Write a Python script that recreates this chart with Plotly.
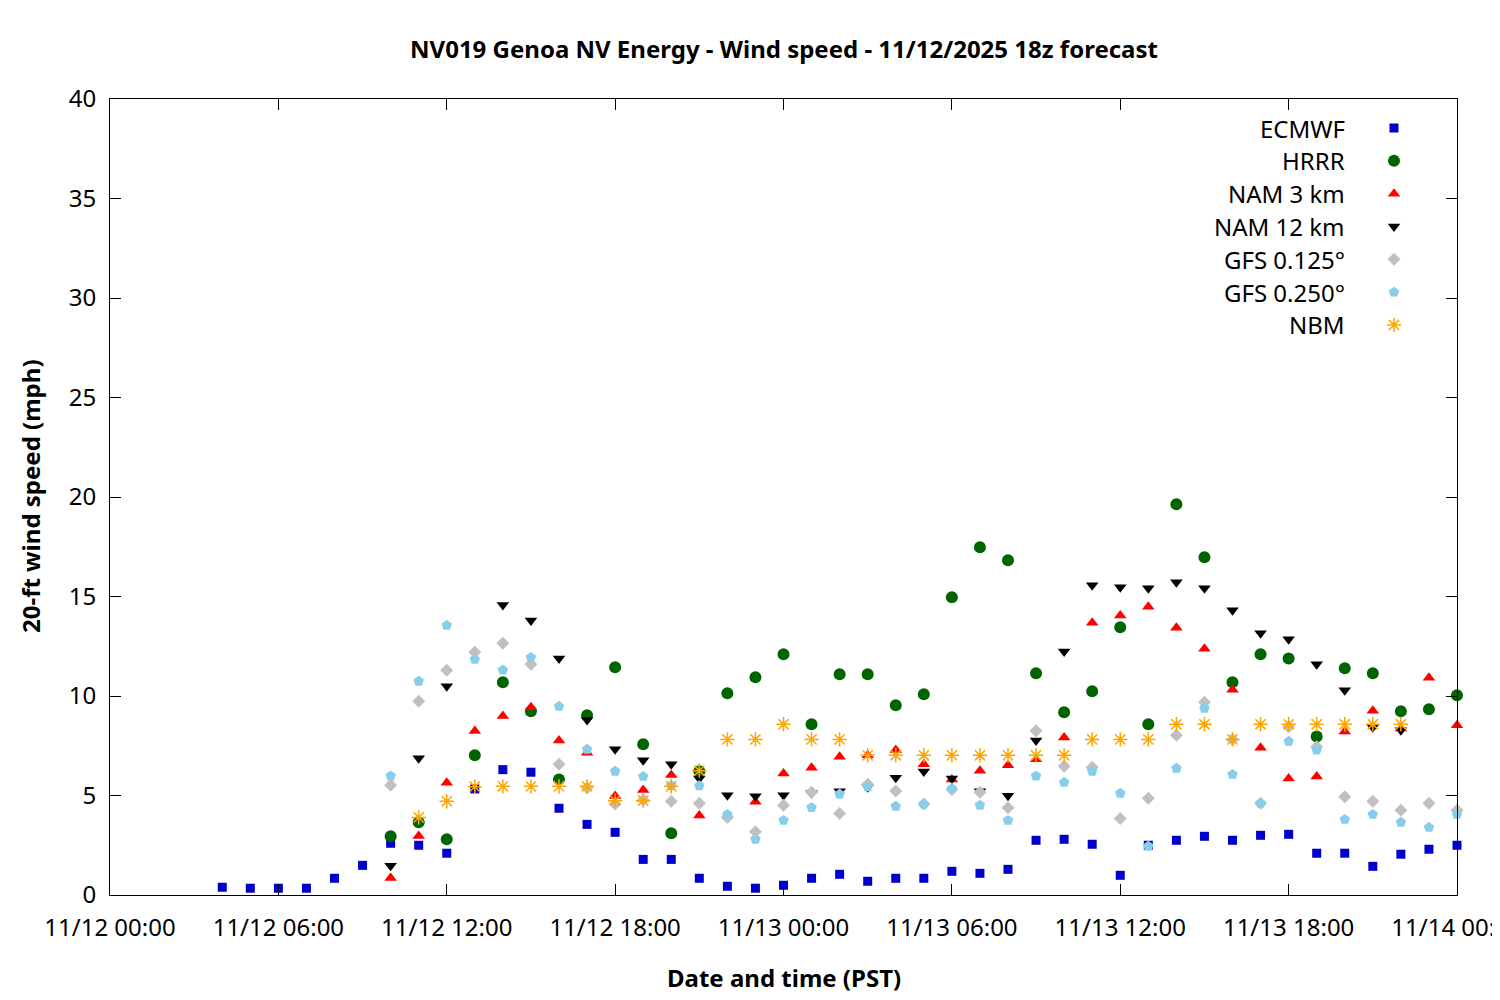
import pandas as pd
import plotly.graph_objects as go

# ---------------- data (hourly, hours after 11/12/2025 00:00 PST) ----------------
base_time = "2025-11-12 00:00"

ecmwf_start = 4
ecmwf = [0.39, 0.34, 0.34, 0.34, 0.84, 1.49, 2.6, 2.5, 2.1, 5.33, 6.3, 6.17, 4.36, 3.55,
         3.15, 1.79, 1.79, 0.84, 0.44, 0.34, 0.49, 0.84, 1.04, 0.69, 0.84, 0.84, 1.19,
         1.09, 1.29, 2.75, 2.8, 2.55, 0.99, 2.5, 2.75, 2.95, 2.75, 3.0, 3.05, 2.1, 2.1,
         1.44, 2.05, 2.3, 2.5]

hrrr_start = 10
hrrr = [2.95, 3.65, 2.8, 7.02, 10.69, 9.23, 5.81, 9.03, 11.44, 7.57, 3.1, 6.22, 10.14,
        10.94, 12.1, 8.58, 11.09, 11.09, 9.53, 10.09, 14.96, 17.47, 16.82, 11.14, 9.18,
        10.24, 13.45, 8.58, 19.63, 16.97, 10.69, 12.1, 11.89, 7.97, 11.39, 11.14, 9.23,
        9.33, 10.04]

nam3_start = 10
nam3 = [0.85, 2.96, 5.64, 8.24, 8.99, 9.43, 7.77, 7.15, 4.97, 5.28, 6.03, 4.0, 4.02,
        4.69, 6.11, 6.4, 6.95, 7.02, 7.29, 6.57, 5.81, 6.25, 6.52, 6.82, 7.91, 13.68,
        14.04, 14.49, 13.43, 12.38, 10.32, 7.4, 5.85, 5.95, 8.21, 9.26, 8.37, 10.92, 8.53]

nam12_start = 10
nam12 = [1.47, 6.87, 10.49, None, 14.57, 13.8, 11.89, 8.79, 7.32, 6.77, 6.57, 5.85,
         5.01, 4.96, 5.01, 5.11, 5.21, 5.41, 5.89, 6.21, 5.85, 5.21, 4.99, 7.77, 12.24,
         15.56, 15.46, 15.41, 15.71, 15.41, 14.31, 13.15, 12.85, 11.59, 10.29, 8.43, 8.28]

gfs125_start = 10
gfs125 = [5.51, 9.73, 11.29, 12.2, 12.65, 11.59, 6.57, 5.38, 4.57, 4.77, 4.71, 4.61,
          3.9, 3.18, 4.51, 5.16, 4.1, 5.56, 5.23, 4.57, 5.3, 5.16, 4.39, 8.26, 6.47,
          6.42, 3.85, 4.86, 8.03, 9.68, 7.82, 4.61, 8.46, 7.45, 4.94, 4.71, 4.26, 4.61,
          4.26]

gfs250_start = 10
gfs250 = [5.98, 10.74, 13.55, 11.84, 11.31, 11.94, 9.48, 7.32, 6.22, 5.96, 5.5, 5.49,
          4.05, 2.8, 3.75, 4.4, 5.07, 5.44, 4.46, 4.57, 5.36, 4.51, 3.75, 5.98, 5.66,
          6.22, 5.11, 2.45, 6.37, 9.38, 6.06, 4.61, 7.72, 7.29, 3.8, 4.05, 3.65, 3.4, 4.05]

nbm_start = 11
nbm = [3.9, 4.71, 5.44, 5.46, 5.46, 5.46, 5.46, 4.74, 4.74, 5.46, 6.25, 7.82, 7.82,
       8.58, 7.82, 7.82, 7.02, 7.02, 7.02, 7.02, 7.02, 7.02, 7.02, 7.02, 7.82, 7.82,
       7.82, 8.58, 8.58, 7.82, 8.58, 8.58, 8.58, 8.58, 8.58, 8.58]

series_names = ["ECMWF", "HRRR", "NAM 3 km", "NAM 12 km", "GFS 0.125°", "GFS 0.250°", "NBM"]
series_values = [ecmwf, hrrr, nam3, nam12, gfs125, gfs250, nbm]
series_starts = [ecmwf_start, hrrr_start, nam3_start, nam12_start, gfs125_start,
                 gfs250_start, nbm_start]

# ---------------- styles ----------------
styles = [
    dict(symbol="square", size=9, color="#0000cc"),
    dict(symbol="circle", size=12, color="#006400"),
    dict(symbol="triangle-up", size=11, color="#ff0000"),
    dict(symbol="triangle-down", size=11, color="#000000"),
    dict(symbol="diamond", size=10, color="#c0c0c0"),
    dict(symbol="pentagon", size=11, color="#87ceeb"),
    dict(symbol="asterisk-open", size=12, color="#ffa500"),
]

FONT = "Noto Sans"
t0 = pd.Timestamp(base_time)

# page offset (browser body margin) so that screen pixels match the reference
OFF = 8
W, H = 1500, 1000
L, T = 110 - OFF, 99 - OFF
R = W - (1457 - OFF)
B = H - (895 - OFF)
pw, ph = W - L - R, H - T - B


def px_x(p):
    return (p - OFF - L) / pw


def px_y(p):
    return (H - B - (p - OFF)) / ph


def make_marker(st):
    marker = dict(symbol=st["symbol"], size=st["size"], color=st["color"])
    if st["symbol"].startswith("asterisk"):
        marker["line"] = dict(color=st["color"], width=1.5)
    else:
        marker["line"] = dict(width=0)
    return marker


fig = go.Figure()
for name, vals, start, st in zip(series_names, series_values, series_starts, styles):
    times = [t0 + pd.Timedelta(hours=start + i) for i in range(len(vals))]
    fig.add_trace(go.Scatter(x=times, y=vals, mode="markers", name=name,
                             marker=make_marker(st), showlegend=False, cliponaxis=False))

# legend keys (gnuplot-style: text right-aligned, symbol to the right)
legend_rows = list(range(len(series_names)))
for name, row, st in zip(series_names, legend_rows, styles):
    fig.add_trace(go.Scatter(x=[0], y=[row], xaxis="x2", yaxis="y2", mode="markers",
                             marker=make_marker(st), showlegend=False, hoverinfo="skip"))
    fig.add_annotation(text=name, xref="paper", yref="y2", x=px_x(1347), y=row,
                       xanchor="right", yanchor="middle", showarrow=False,
                       font=dict(family=FONT, size=24, color="black"))

fig.update_layout(
    width=W, height=H,
    margin=dict(l=L, r=R, t=T, b=B, autoexpand=False),
    paper_bgcolor="white", plot_bgcolor="white",
    font=dict(family=FONT, size=24, color="black"),
    title=dict(text="<b>NV019 Genoa NV Energy - Wind speed - 11/12/2025 18z forecast</b>",
               x=px_x(784), xref="paper", xanchor="center",
               y=1 - (50 - OFF) / H, yref="container", yanchor="middle",
               font=dict(family=FONT, size=24, color="black")),
    xaxis=dict(type="date",
               range=[t0, t0 + pd.Timedelta(hours=48)],
               tickformat="%m/%d %H:%M", dtick=6 * 3600 * 1000, tick0=t0,
               ticks="inside", ticklen=11, tickcolor="black", tickwidth=1,
               showline=True, linecolor="black", linewidth=1, mirror="ticks",
               showgrid=False, zeroline=False, ticklabelstandoff=11,
               ticklabeloverflow="allow", automargin=False,
               tickfont=dict(family=FONT, size=24, color="black")),
    yaxis=dict(range=[0, 40], dtick=5, tick0=0,
               ticks="inside", ticklen=11, tickcolor="black", tickwidth=1,
               showline=True, linecolor="black", linewidth=1, mirror="ticks",
               showgrid=False, zeroline=False, ticklabelstandoff=8, automargin=False,
               tickfont=dict(family=FONT, size=24, color="black")),
    xaxis2=dict(domain=[px_x(1394) - 0.02, px_x(1394) + 0.02], range=[-1, 1],
                anchor="y2", visible=False, fixedrange=True, automargin=False),
    yaxis2=dict(domain=[px_y(128 + 16.4 + 6 * 32.83), px_y(128 - 16.4)],
                range=[6.5, -0.5], anchor="x2", visible=False, fixedrange=True,
                automargin=False),
    showlegend=False,
)

fig.add_annotation(text="<b>Date and time (PST)</b>", xref="paper", yref="paper",
                   x=px_x(784), y=px_y(977), xanchor="center", yanchor="middle",
                   showarrow=False, font=dict(family=FONT, size=24, color="black"))
fig.add_annotation(text="<b>20-ft wind speed (mph)</b>", xref="paper", yref="paper",
                   x=px_x(30), y=px_y(496), xanchor="center", yanchor="middle",
                   textangle=-90, showarrow=False,
                   font=dict(family=FONT, size=24, color="black"))

fig.write_html("out.html")
